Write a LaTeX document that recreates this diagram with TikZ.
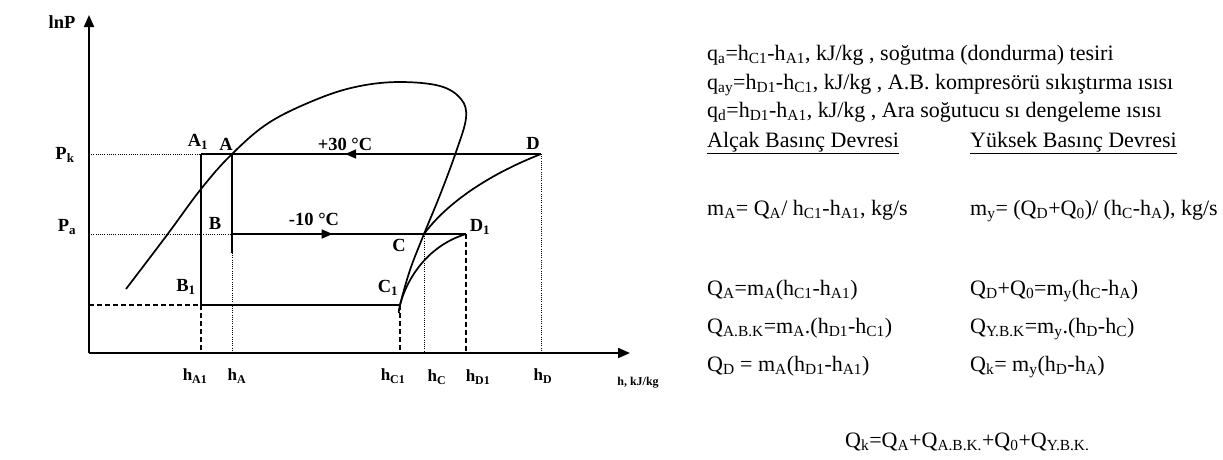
\documentclass[tikz,border=0pt]{standalone}
\usepackage{fontspec}
\setmainfont{Liberation Serif}
\usetikzlibrary{arrows.meta,decorations.markings}
\tikzset{
  curve/.style={line width=1.7pt},
  axis/.style={line width=2pt,-{Triangle[length=12pt,width=10pt]}},
  guide/.style={line width=0.8pt,dash pattern=on 1pt off 1.2pt},
  dsh/.style={line width=1.5pt,dash pattern=on 5pt off 3pt},
  lbl/.style={font=\fontsize{18.5}{21}\selectfont\bfseries,inner sep=0pt},
  hlbl/.style={font=\fontsize{17}{20}\selectfont\bfseries,inner sep=0pt},
  txt/.style={font=\fontsize{22}{26}\selectfont,anchor=base west,inner sep=0pt},
  midarrow/.style={postaction={decorate},decoration={markings,
      mark=at position #1 with {\arrow{Triangle[length=11pt,width=9pt]}}}},
}
\begin{document}
\begin{tikzpicture}[x=1pt,y=-1pt]
\useasboundingbox (0,0) rectangle (1223,459);
% key points
\coordinate (O) at (89,353);
\coordinate (ytip) at (89,15);
\coordinate (xtip) at (630,353);
\coordinate (A1) at (201,154);
\coordinate (A) at (232,154);
\coordinate (D) at (541,154);
\coordinate (B) at (232,234);
\coordinate (Bend) at (232,253);
\coordinate (C) at (424,234);
\coordinate (D1) at (466,234);
\coordinate (B1) at (201,305);
\coordinate (C1) at (400,305);
\coordinate (pk) at (89,154);
\coordinate (pa) at (89,234);
\coordinate (pb) at (89,305);
\coordinate (hA1) at (201,353);
\coordinate (hA) at (232,353);
\coordinate (hC1) at (400,353);
\coordinate (hC) at (424,353);
\coordinate (hD1) at (466,353);
\coordinate (hD) at (541,353);
% guide lines
\draw[guide] (pk) -- (A1);
\draw[guide] (pa) -- (B);
\draw[dsh] (pb) -- (B1);
\draw[dsh] (B1) -- (hA1);
\draw[guide] (Bend) -- (hA);
\draw[dsh] (C1) -- (hC1);
\draw[guide] (C) -- (hC);
\draw[dsh] (D1) -- (hD1);
\draw[guide] (D) -- (hD);
% axes
\draw[axis] (O) -- (ytip);
\draw[axis] (O) -- (xtip);
% cycle lines
\draw[curve,midarrow=0.576] (D) -- (A1);
\draw[curve] (A1) -- (B1) -- (C1);
\draw[curve] (A) -- (Bend);
\draw[curve,midarrow=0.43] (B) -- (D1);
% saturation dome
\draw[curve] plot[smooth,tension=0.6] coordinates {(126,289) (167,235) (201,189) (232,154) (270,122) (320,98) (360,86) (400,82) (440,86) (461,99) (466,118) (456,152) (440,195) (424,234) (410,270) (400,305) (399,313)};
% compression curves
\draw[curve] (C) .. controls (440,212) and (475,180) .. (D);
\draw[curve] (C1) .. controls (408,275) and (430,245) .. (D1);
% diagram labels
\node[lbl] (lnP) at (62,22) {lnP};
\node[lbl] (Pk) at (65,155) {P\textsubscript{k}};
\node[lbl] (Pa) at (67,227) {P\textsubscript{a}};
\node[lbl] (lA1) at (198,142) {A\textsubscript{1}};
\node[lbl] (lA) at (226,144) {A};
\node[lbl] (lD) at (533,143) {D};
\node[lbl] (lB) at (215,223) {B};
\node[lbl] (lB1) at (186,287) {B\textsubscript{1}};
\node[lbl] (lC) at (399,245) {C};
\node[lbl] (lC1) at (388,288) {C\textsubscript{1}};
\node[lbl] (lD1) at (480,227) {D\textsubscript{1}};
\node[lbl] (t30) at (345,144) {+30 °C};
\node[lbl] (t10) at (314,219) {-10 °C};
\node[hlbl] (xhA1) at (195,376) {h\textsubscript{A1}};
\node[hlbl] (xhA) at (237,376) {h\textsubscript{A}};
\node[hlbl] (xhC1) at (393,376) {h\textsubscript{C1}};
\node[hlbl] (xhC) at (437,377) {h\textsubscript{C}};
\node[hlbl] (xhD1) at (478,377) {h\textsubscript{D1}};
\node[hlbl] (xhD) at (543,376) {h\textsubscript{D}};
\node[font=\fontsize{12}{14}\selectfont\bfseries,inner sep=0pt] (hunit) at (638,383) {h, kJ/kg};
% right-hand text
\node[txt] (t1) at (707,60) {q\textsubscript{a}=h\textsubscript{C1}-h\textsubscript{A1}, kJ/kg , soğutma (dondurma) tesiri};
\node[txt] (t2) at (707,89) {q\textsubscript{ay}=h\textsubscript{D1}-h\textsubscript{C1}, kJ/kg , A.B. kompresörü sıkıştırma ısısı};
\node[txt] (t3) at (707,117) {q\textsubscript{d}=h\textsubscript{D1}-h\textsubscript{A1}, kJ/kg , Ara soğutucu sı dengeleme ısısı};
\node[txt] (h1) at (707,147) {\underline{Alçak Basınç Devresi}};
\node[txt] (h2) at (970,147) {\underline{Yüksek Basınç Devresi}};
\node[txt] (m1) at (707,215) {m\textsubscript{A}= Q\textsubscript{A}/ h\textsubscript{C1}-h\textsubscript{A1}, kg/s};
\node[txt] (m2) at (970,215) {m\textsubscript{y}= (Q\textsubscript{D}+Q\textsubscript{0})/ (h\textsubscript{C}-h\textsubscript{A}), kg/s};
\node[txt] (e1) at (707,295) {Q\textsubscript{A}=m\textsubscript{A}(h\textsubscript{C1}-h\textsubscript{A1})};
\node[txt] (e2) at (970,295) {Q\textsubscript{D}+Q\textsubscript{0}=m\textsubscript{y}(h\textsubscript{C}-h\textsubscript{A})};
\node[txt] (e3) at (707,333) {Q\textsubscript{A.B.K}=m\textsubscript{A}.(h\textsubscript{D1}-h\textsubscript{C1})};
\node[txt] (e4) at (970,333) {Q\textsubscript{Y.B.K}=m\textsubscript{y}.(h\textsubscript{D}-h\textsubscript{C})};
\node[txt] (e5) at (707,371) {Q\textsubscript{D} = m\textsubscript{A}(h\textsubscript{D1}-h\textsubscript{A1})};
\node[txt] (e6) at (970,371) {Q\textsubscript{k}= m\textsubscript{y}(h\textsubscript{D}-h\textsubscript{A})};
\node[txt] (e7) at (845,447) {Q\textsubscript{k}=Q\textsubscript{A}+Q\textsubscript{A.B.K.}+Q\textsubscript{0}+Q\textsubscript{Y.B.K.}};
\end{tikzpicture}
\end{document}
